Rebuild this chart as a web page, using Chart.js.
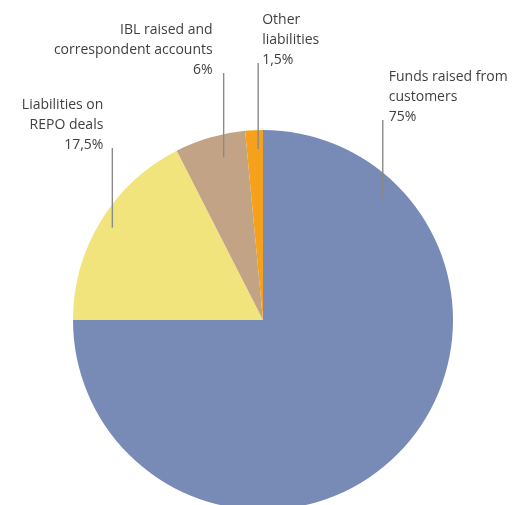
<!DOCTYPE html>
<html>
<head>
<meta charset="utf-8">
<script src="https://cdn.jsdelivr.net/npm/chart.js@4/dist/chart.umd.min.js"></script>
<style>
  html, body { margin: 0; padding: 0; background: #fff; overflow: hidden; }
  #wrap { width: 517px; height: 505px; overflow: hidden; }
</style>
</head>
<body>
<div id="wrap"><canvas id="chart" width="517" height="515"></canvas></div>
<script>
const categories = [
  "Funds raised from customers",
  "Liabilities on REPO deals",
  "IBL raised and correspondent accounts",
  "Other liabilities",
];
const shares = [75, 17.5, 6, 1.5];
const shareLabels = ["75%", "17,5%", "6%", "1,5%"];
const labelLines = [
  ["Funds raised from", "customers"],
  ["Liabilities on", "REPO deals"],
  ["IBL raised and", "correspondent accounts"],
  ["Other", "liabilities"],
];
const sliceColors = ["#788ab6", "#f1e47c", "#c3a385", "#f5a11c"];

// where each leader line sits: fraction along the slice, fraction of radius,
// line top, text side
const callouts = [
  { t: 0.167, k: 0.89, top: 120, side: "right", gap: 6 },
  { t: 0.5, k: 0.93, top: 148, side: "left", gap: 9 },
  { t: 0.62, k: 0.88, top: 73, side: "left", gap: 11 },
  { t: 0.7, k: 0.9, top: 63, side: "right", gap: 4 },
];

const calloutPlugin = {
  id: "callouts",
  afterDatasetsDraw(chart) {
    const { ctx } = chart;
    const arcs = chart.getDatasetMeta(0).data;
    ctx.save();
    arcs.forEach((arc, i) => {
      const c = callouts[i];
      const { x, y, startAngle, endAngle, outerRadius } = arc.getProps(
        ["x", "y", "startAngle", "endAngle", "outerRadius"], true);
      const a = startAngle + c.t * (endAngle - startAngle);
      const px = x + Math.cos(a) * outerRadius * c.k;
      const py = y + Math.sin(a) * outerRadius * c.k;

      ctx.strokeStyle = "#8a8a8a";
      ctx.lineWidth = 1.4;
      ctx.beginPath();
      ctx.moveTo(px, py);
      ctx.lineTo(px, c.top);
      ctx.stroke();

      const lines = [...labelLines[i], shareLabels[i]];
      ctx.fillStyle = "#3f3f3f";
      ctx.font = "14px 'Open Sans'";
      ctx.textBaseline = "middle";
      ctx.textAlign = c.side === "right" ? "left" : "right";
      const tx = c.side === "right" ? px + c.gap : px - c.gap;
      lines.forEach((line, j) => {
        const ty = c.top - 3 - (lines.length - 1 - j) * 20;
        ctx.fillText(line, tx, ty);
      });
    });
    ctx.restore();
  },
};

new Chart(document.getElementById("chart"), {
  type: "pie",
  data: {
    labels: categories,
    datasets: [
      {
        data: shares,
        backgroundColor: sliceColors,
        borderWidth: 0,
      },
    ],
  },
  options: {
    responsive: false,
    animation: false,
    layout: { padding: { top: 130, left: 73, right: 64, bottom: 5 } },
    plugins: {
      legend: { display: false },
      tooltip: { enabled: false },
    },
  },
  plugins: [calloutPlugin],
});
</script>
</body>
</html>
